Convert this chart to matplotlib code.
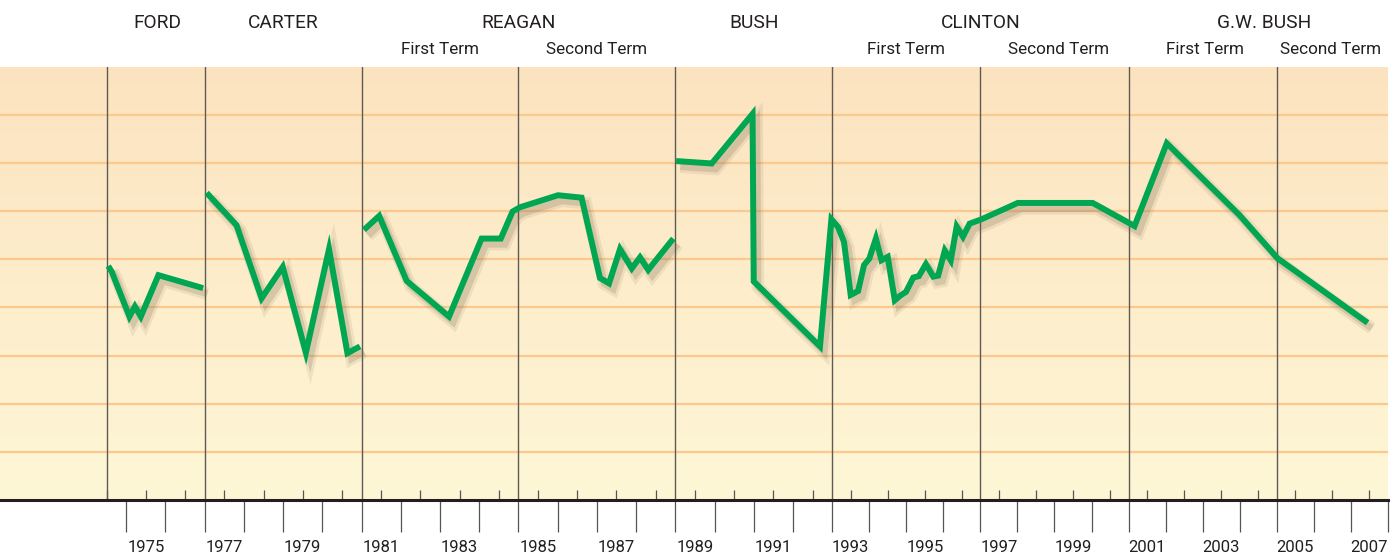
import numpy as np
import matplotlib
matplotlib.use("Agg")
import matplotlib.pyplot as plt
import matplotlib.patheffects as pe
from matplotlib import transforms
from matplotlib.ticker import FixedLocator, NullFormatter

plt.rcParams['font.family'] = ['Roboto', 'DejaVu Sans']

# data (value scale 0-90, one grid line per 10)
ford_years = [1974.54, 1974.63, 1975.08, 1975.22, 1975.37, 1975.82, 1976.96]
ford_vals = [48.6, 47.4, 38.1, 40.2, 38.1, 46.7, 44.0]

carter_years = [1977.05, 1977.81, 1978.45, 1978.99, 1979.58, 1980.17, 1980.64, 1980.96]
carter_vals = [63.8, 57.1, 41.9, 48.4, 30.6, 52.1, 30.5, 31.9]

reagan_years = [1981.06, 1981.45, 1982.15, 1983.23, 1984.06, 1984.55, 1984.85, 1985.04,
                1986.01, 1986.61, 1987.08, 1987.31, 1987.59, 1987.89, 1988.10, 1988.31, 1988.95]
reagan_vals = [56.1, 59.0, 45.5, 38.1, 54.3, 54.3, 59.9, 60.8,
               63.3, 62.8, 46.1, 45.0, 52.1, 48.1, 50.4, 47.8, 54.3]

bush_years = [1989.02, 1989.93, 1990.97, 1991.00, 1992.69]
bush_vals = [70.4, 69.9, 80.2, 45.4, 31.9]

clinton_years = [1992.98, 1993.16, 1993.32, 1993.50, 1993.70, 1993.86, 1994.00, 1994.18,
                 1994.33, 1994.50, 1994.69, 1994.83, 1994.99, 1995.19, 1995.34, 1995.53,
                 1995.73, 1995.86, 1996.04, 1996.20, 1996.36, 1996.53, 1996.71, 1997.03,
                 1998.01, 2000.03, 2001.16]
clinton_vals = [58.3, 56.7, 53.6, 42.6, 43.4, 48.8, 50.1, 54.3,
                49.8, 50.5, 41.5, 42.4, 43.2, 46.2, 46.5, 49.0,
                46.4, 46.6, 51.8, 49.8, 56.8, 54.7, 57.4, 58.3,
                61.7, 61.7, 56.9]

gwbush_years = [2002.03, 2003.99, 2005.02, 2007.45]
gwbush_vals = [74.1, 59.2, 50.2, 36.8]

# term boundaries and header labels
term_starts = [1974.5, 1977, 1981, 1985, 1989, 1993, 1997, 2001, 2005]
presidents = ['FORD', 'CARTER', 'REAGAN', 'BUSH', 'CLINTON', 'G.W. BUSH']
president_x = [1975.8, 1979.0, 1985.0, 1991.0, 1997.0, 2004.65]
terms = ['First Term', 'Second Term', 'First Term', 'Second Term', 'First Term', 'Second Term']
term_x = [1983.0, 1987.0, 1995.0, 1999.1, 2003.05, 2006.45]
label_years = list(range(1975, 2008, 2))

# the original has slightly wider years before 1993 than after
K, PK, S1, S2 = 1993.0, 832.3, 39.22, 37.06

def fwd(x):
    x = np.asarray(x, dtype=float)
    return np.where(x < K, PK + (x - K) * S1, PK + (x - K) * S2)

def inv(p):
    p = np.asarray(p, dtype=float)
    return np.where(p < PK, K + (p - PK) / S1, K + (p - PK) / S2)

fig = plt.figure(figsize=(13.96, 5.58), dpi=100)
ax = fig.add_axes([0, 58 / 558, 1388 / 1396, 433.3 / 558])
ax.set_xscale('function', functions=(fwd, inv))

# peach -> pale yellow background
top = np.array([252, 227, 192]) / 255
bottom = np.array([254, 247, 214]) / 255
t = np.linspace(0, 1, 256)[:, None]
grad = (top * (1 - t) + bottom * t)[:, None, :]
ax.imshow(grad, extent=(0, 1, 0, 1), transform=ax.transAxes, aspect='auto', zorder=0)

ax.set_xlim(1971.78, 2008.0)
ax.set_ylim(0, 90)

# orange grid
ax.set_yticks(range(10, 90, 10))
ax.yaxis.grid(True, color='#fbc98e', linewidth=1.6)
ax.set_axisbelow(True)
ax.tick_params(axis='y', left=False, labelleft=False)

for s in ['top', 'left', 'right']:
    ax.spines[s].set_visible(False)
ax.spines['bottom'].set_color('#231f20')
ax.spines['bottom'].set_linewidth(2.2)

# year ticks below the axis, half-year ticks inside
ax.xaxis.set_major_locator(FixedLocator(range(1975, 2009)))
ax.xaxis.set_major_formatter(NullFormatter())
ax.xaxis.set_minor_locator(FixedLocator([y + 0.5 for y in range(1974, 2008)]))
ax.xaxis.set_minor_formatter(NullFormatter())
ax.tick_params(axis='x', which='major', direction='out', length=23, width=0.9, color='#555555')
ax.tick_params(axis='x', which='minor', direction='in', length=7, width=0.9, color='#555555')

fig_y = transforms.blended_transform_factory(ax.transData, fig.transFigure)

# odd-year labels sit in the middle of their year
for y in label_years:
    ax.text(y + 0.5, 1 - 552 / 558, str(y), transform=fig_y, ha='center', va='baseline',
            fontsize=12, color='#231f20', clip_on=False)

for x in term_starts:
    ax.axvline(x, color='#5f5a55', linewidth=1.0, zorder=1)

shadow = [pe.SimpleLineShadow(offset=(3, -4), shadow_color='#6b5a40', alpha=0.10, linewidth=9),
          pe.SimpleLineShadow(offset=(3, -4), shadow_color='#6b5a40', alpha=0.18, linewidth=5),
          pe.Normal()]
green = '#00a651'

segments = [
    (ford_years, ford_vals),
    (carter_years, carter_vals),
    (reagan_years, reagan_vals),
    (bush_years + clinton_years + gwbush_years, bush_vals + clinton_vals + gwbush_vals),
]
for xs, ys in segments:
    ax.plot(xs, ys, color=green, linewidth=4.3, solid_joinstyle='miter',
            solid_capstyle='butt', path_effects=shadow, zorder=3)

# header
for name, x in zip(presidents, president_x):
    ax.text(x, 1 - 28 / 558, name, transform=fig_y, ha='center', va='baseline',
            fontsize=13.8, color='#231f20', clip_on=False)
for name, x in zip(terms, term_x):
    ax.text(x, 1 - 53.5 / 558, name, transform=fig_y, ha='center', va='baseline',
            fontsize=12.3, color='#231f20', clip_on=False)

fig.savefig('out.png', dpi=100, facecolor='white')
